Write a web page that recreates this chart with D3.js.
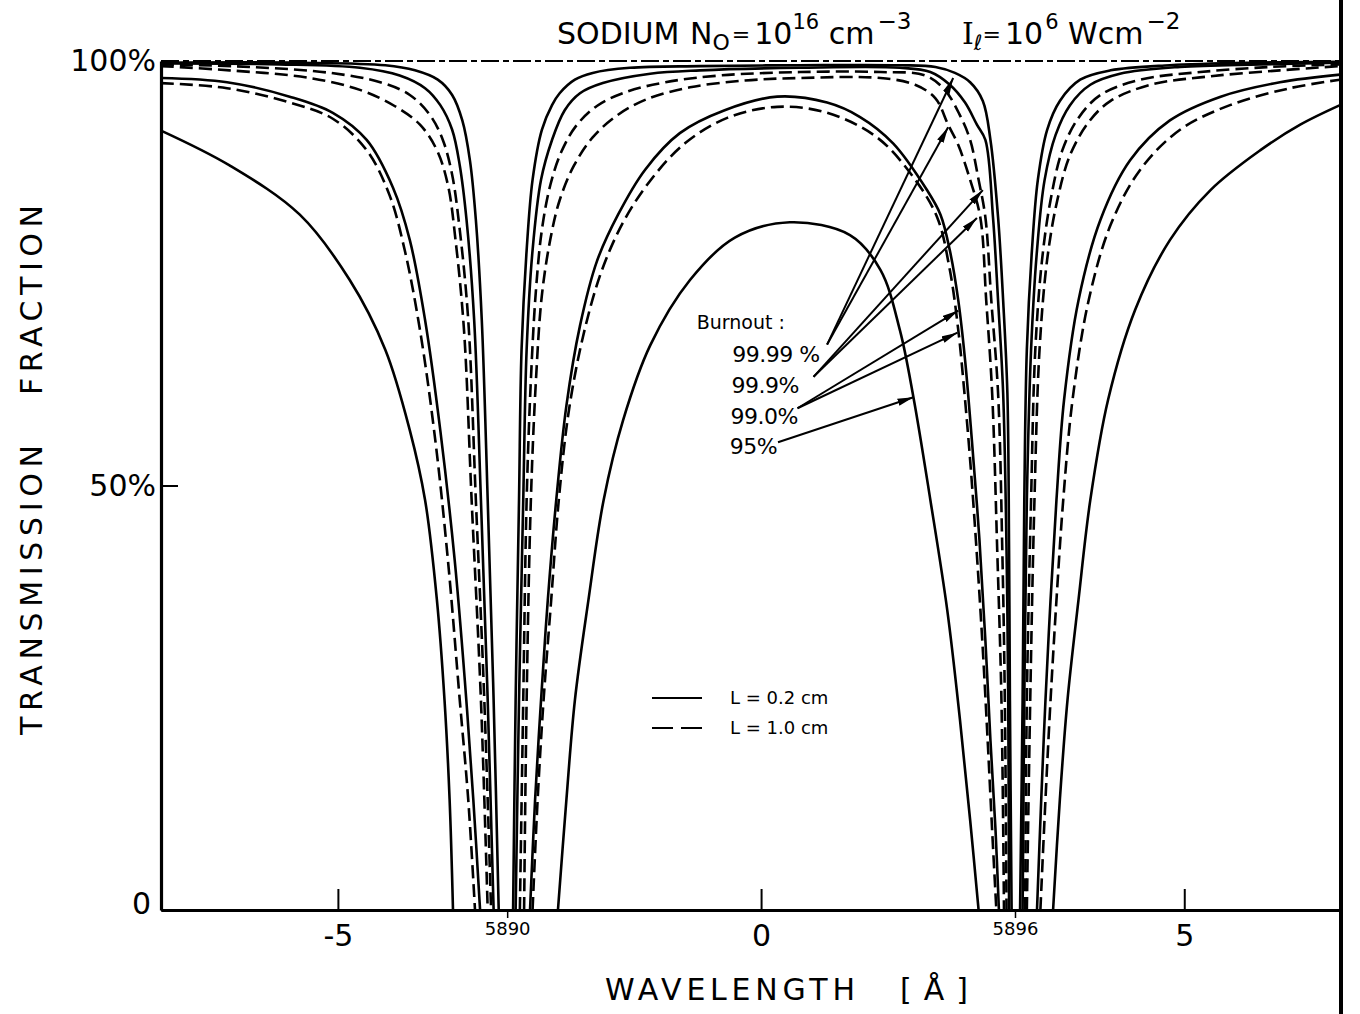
<!DOCTYPE html>
<html>
<head>
<meta charset="utf-8">
<script src="https://cdn.jsdelivr.net/npm/d3@7/dist/d3.min.js"></script>
<style>
  body { margin: 0; background: #fff; }
  svg { display: block; font-family: 'DejaVu Sans', sans-serif; }
</style>
</head>
<body>
<div id="chart"></div>
<script>
// x: wavelength offset from 5893 A, y: transmission in %
const xExtent = [-7.09, 6.84];
const xTicks = [-5, 0, 5];
const lineTicks = [-3, 3];
const lineLabels = ['5890', '5896'];
const yTicks = [0, 50, 100];
const yTickLabels = ['0', '50%', '100%'];

// each curve: left wing, centre hump, right wing (null = break at zero)
const burn9999Short = [
  [-7.09, 99.8], [-5.45, 99.8], [-4.44, 99.5], [-4.09, 98.9], [-3.82, 97.8], [-3.65, 96.0], [-3.53, 93.0],
  [-3.44, 88.3], [-3.37, 81.3], [-3.30, 69.5], [-3.23, 48.3], [-3.16, 24.7], [-3.10, 0],
  null,
  [-2.93, 0], [-2.90, 24.7], [-2.86, 48.3], [-2.83, 66.0], [-2.77, 77.7], [-2.70, 86.0], [-2.59, 91.9],
  [-2.47, 94.8], [-2.38, 96.2], [-2.20, 97.8], [-1.99, 98.6], [-1.55, 99.2], [-0.72, 99.4], [0.46, 99.5],
  [1.64, 99.5], [2.06, 99.3], [2.29, 98.6], [2.47, 97.5], [2.62, 95.3], [2.71, 90.7], [2.80, 81.6],
  [2.86, 71.8], [2.91, 60.9], [2.93, 42.4], [2.94, 24.7], [2.96, 0],
  null,
  [3.06, 0], [3.09, 24.7], [3.11, 48.3], [3.14, 66.0], [3.20, 77.7], [3.27, 86.0], [3.38, 91.9],
  [3.53, 95.3], [3.77, 97.8], [4.13, 98.9], [4.83, 99.5], [5.78, 99.8], [6.84, 99.9]
];
const burn999Short = [
  [-7.09, 99.7], [-5.69, 99.6], [-4.74, 99.2], [-4.27, 98.3], [-3.97, 96.8], [-3.79, 94.8], [-3.65, 91.9],
  [-3.56, 87.7], [-3.48, 81.3], [-3.39, 69.5], [-3.31, 48.3], [-3.23, 24.7], [-3.16, 0],
  null,
  [-2.90, 0], [-2.86, 24.7], [-2.81, 48.3], [-2.77, 66.0], [-2.70, 77.7], [-2.60, 86.0], [-2.47, 90.7],
  [-2.32, 94.2], [-2.14, 96.2], [-1.87, 97.4], [-1.31, 98.5], [-0.72, 98.9], [0.46, 99.2], [1.64, 99.2],
  [2.00, 98.7], [2.23, 97.2], [2.41, 95.1], [2.55, 92.5], [2.65, 90.7], [2.74, 81.6], [2.80, 71.8],
  [2.86, 60.9], [2.90, 42.4], [2.92, 24.7], [2.93, 0],
  null,
  [3.09, 0], [3.11, 24.7], [3.14, 48.3], [3.19, 66.0], [3.26, 77.7], [3.35, 86.0], [3.48, 91.3],
  [3.65, 94.8], [3.89, 97.2], [4.24, 98.5], [4.95, 99.3], [5.90, 99.6], [6.84, 99.8]
];
const burn9999Long = [
  [-7.09, 99.6], [-6.04, 99.3], [-5.09, 98.6], [-4.50, 97.5], [-4.15, 96.0], [-3.91, 93.6], [-3.76, 90.7],
  [-3.65, 86.6], [-3.56, 80.1], [-3.46, 69.5], [-3.37, 48.3], [-3.27, 24.7], [-3.19, 0],
  null,
  [-2.85, 0], [-2.81, 24.7], [-2.77, 48.3], [-2.72, 62.4], [-2.66, 73.0], [-2.59, 80.1], [-2.49, 85.4],
  [-2.36, 89.3], [-2.19, 92.3], [-1.94, 94.7], [-1.61, 96.3], [-1.13, 97.5], [-0.48, 98.3], [0.46, 98.7],
  [1.41, 98.7], [1.94, 98.3], [2.17, 96.6], [2.35, 93.6], [2.47, 90.7], [2.57, 86.0], [2.65, 81.6],
  [2.72, 71.8], [2.80, 60.9], [2.85, 42.4], [2.88, 24.7], [2.90, 0],
  null,
  [3.12, 0], [3.14, 24.7], [3.19, 48.3], [3.24, 66.0], [3.32, 76.6], [3.42, 83.6], [3.56, 89.5],
  [3.75, 93.3], [4.01, 96.0], [4.48, 97.8], [5.19, 98.7], [6.02, 99.3], [6.84, 99.6]
];
const burn999Long = [
  [-7.09, 99.4], [-6.28, 98.9], [-5.33, 98.0], [-4.74, 96.6], [-4.33, 94.7], [-4.03, 92.5], [-3.83, 89.5],
  [-3.70, 85.4], [-3.61, 78.9], [-3.51, 68.3], [-3.42, 48.3], [-3.31, 24.7], [-3.23, 0],
  null,
  [-2.80, 0], [-2.77, 24.7], [-2.72, 48.3], [-2.66, 62.4], [-2.59, 72.4], [-2.49, 79.0], [-2.38, 83.6],
  [-2.21, 87.7], [-1.99, 91.0], [-1.70, 93.6], [-1.35, 95.5], [-0.84, 96.9], [-0.19, 97.7], [0.46, 98.0],
  [1.41, 98.0], [1.82, 97.2], [2.06, 95.6], [2.21, 92.5], [2.33, 90.1], [2.47, 86.0], [2.59, 81.6],
  [2.66, 71.8], [2.73, 60.9], [2.79, 42.4], [2.84, 24.7], [2.87, 0],
  null,
  [3.14, 0], [3.18, 24.7], [3.23, 48.3], [3.29, 66.0], [3.38, 76.6], [3.50, 83.6], [3.65, 88.9],
  [3.87, 92.8], [4.13, 95.3], [4.60, 97.2], [5.31, 98.2], [6.13, 98.9], [6.84, 99.4]
];
const burn990Short = [
  [-7.09, 98.0], [-6.31, 97.5], [-5.57, 95.8], [-5.06, 93.9], [-4.66, 90.7], [-4.35, 85.1], [-4.15, 78.9],
  [-3.97, 69.5], [-3.79, 56.5], [-3.62, 41.2], [-3.50, 27.0], [-3.40, 13.0], [-3.32, 0],
  null,
  [-2.73, 0], [-2.67, 13.0], [-2.60, 24.7], [-2.52, 36.5], [-2.42, 48.3], [-2.30, 59.4], [-2.14, 68.8],
  [-1.94, 76.4], [-1.69, 81.9], [-1.37, 87.2], [-0.96, 91.5], [-0.43, 94.2], [0.19, 95.8], [0.78, 95.1],
  [1.17, 93.4], [1.56, 90.3], [1.96, 84.8], [2.12, 81.9], [2.23, 77.7], [2.33, 71.8], [2.41, 64.8],
  [2.49, 55.4], [2.58, 43.6], [2.65, 31.8], [2.71, 20.0], [2.77, 9.4], [2.81, 0],
  null,
  [3.26, 0], [3.31, 13.0], [3.36, 24.7], [3.42, 36.5], [3.49, 48.3], [3.58, 60.1], [3.75, 71.8],
  [4.01, 81.3], [4.36, 88.3], [4.83, 93.0], [5.43, 95.8], [6.13, 97.5], [6.84, 98.4]
];
const burn990Long = [
  [-7.09, 97.4], [-6.31, 96.8], [-5.57, 95.1], [-5.06, 93.2], [-4.66, 89.5], [-4.39, 84.2], [-4.21, 77.7],
  [-4.03, 68.3], [-3.85, 55.4], [-3.70, 41.2], [-3.56, 24.7], [-3.46, 13.0], [-3.38, 0],
  null,
  [-2.70, 0], [-2.64, 13.0], [-2.57, 24.7], [-2.48, 36.5], [-2.39, 48.3], [-2.27, 58.9], [-2.10, 67.7],
  [-1.89, 75.1], [-1.63, 81.0], [-1.31, 85.9], [-0.90, 90.3], [-0.40, 93.3], [0.19, 94.6], [0.78, 93.9],
  [1.37, 91.0], [1.80, 86.3], [2.08, 81.6], [2.23, 75.4], [2.33, 68.3], [2.40, 61.2], [2.47, 53.0],
  [2.55, 41.8], [2.62, 30.6], [2.68, 19.4], [2.73, 9.4], [2.78, 0],
  null,
  [3.30, 0], [3.36, 13.0], [3.42, 24.7], [3.49, 36.5], [3.57, 48.3], [3.68, 60.1], [3.87, 71.8],
  [4.13, 80.7], [4.48, 87.2], [4.95, 91.9], [5.54, 94.8], [6.25, 96.8], [6.84, 97.8]
];
const burn95Short = [
  [-7.09, 91.8], [-6.28, 87.7], [-5.45, 81.9], [-4.86, 74.2], [-4.44, 66.0], [-4.15, 56.5], [-3.97, 48.3],
  [-3.83, 36.5], [-3.74, 24.7], [-3.68, 13.0], [-3.64, 0],
  null,
  [-2.40, 0], [-2.30, 13.0], [-2.20, 24.7], [-2.04, 36.5], [-1.86, 48.3], [-1.63, 57.7], [-1.31, 66.5],
  [-0.84, 74.2], [-0.31, 79.2], [0.34, 81.0], [1.05, 79.5], [1.41, 75.4], [1.64, 68.3], [1.80, 60.4],
  [2.00, 48.3], [2.20, 35.3], [2.35, 22.4], [2.47, 10.6], [2.57, 0],
  null,
  [3.45, 0], [3.53, 13.0], [3.62, 24.7], [3.75, 36.5], [3.89, 48.3], [4.10, 60.1], [4.42, 70.7],
  [4.83, 78.9], [5.31, 84.8], [5.90, 89.5], [6.37, 92.5], [6.84, 94.8]
];

// burnout labels and where their arrows point
const burnLabels = ['99.99 %', '99.9%', '99.0%', '95%'];
const burnLabelPos = [[-0.34, 64.6], [-0.35, 60.9], [-0.36, 57.2], [-0.37, 53.7]];
const arrowFrom = [[0.78, 66.6], [0.78, 66.6], [0.62, 62.8], [0.62, 62.8], [0.43, 59.1], [0.43, 59.1], [0.20, 55.1]];
const arrowTo = [[2.27, 98.0], [2.21, 92.2], [2.62, 84.8], [2.55, 81.5], [2.33, 70.6], [2.32, 68.0], [1.80, 60.4]];

const curves = [
  {values: burn9999Short, dashed: false},
  {values: burn999Short, dashed: false},
  {values: burn9999Long, dashed: true},
  {values: burn999Long, dashed: true},
  {values: burn990Short, dashed: false},
  {values: burn990Long, dashed: true},
  {values: burn95Short, dashed: false}
];

const width = 1360;
const height = 1014;
const svg = d3.select('#chart').append('svg')
  .attr('width', width)
  .attr('height', height);

const x = d3.scaleLinear().domain(xExtent).range([161, 1340]);
const y = d3.scaleLinear().domain([0, 100]).range([910, 61]);

const defs = svg.append('defs');
defs.append('clipPath').attr('id', 'plotclip')
  .append('rect')
  .attr('x', x(xExtent[0]))
  .attr('y', 30)
  .attr('width', x(xExtent[1]) - x(xExtent[0]))
  .attr('height', y(0) - 30);
defs.append('marker')
  .attr('id', 'head')
  .attr('viewBox', '0 -4 16 8')
  .attr('refX', 16)
  .attr('refY', 0)
  .attr('markerWidth', 16)
  .attr('markerHeight', 8)
  .attr('markerUnits', 'userSpaceOnUse')
  .attr('orient', 'auto')
  .append('path')
  .attr('d', 'M0,-3.6L16,0L0,3.6Z')
  .attr('fill', '#000');

// 100 % reference line
svg.append('line')
  .attr('x1', x(xExtent[0]))
  .attr('x2', x(xExtent[1]))
  .attr('y1', y(100))
  .attr('y2', y(100))
  .attr('stroke', '#000')
  .attr('stroke-width', 2.2)
  .attr('stroke-dasharray', '18,4,6,4');

const line = d3.line()
  .defined(d => d !== null)
  .x(d => x(d[0]))
  .y(d => y(d[1]))
  .curve(d3.curveCatmullRom.alpha(0.5));

svg.append('g')
  .attr('clip-path', 'url(#plotclip)')
  .selectAll('path')
  .data(curves)
  .enter()
  .append('path')
    .attr('d', d => line(d.values))
    .attr('fill', 'none')
    .attr('stroke', '#000')
    .attr('stroke-width', 2.6)
    .attr('stroke-dasharray', d => d.dashed ? '13,6' : null);

// axes
let yAxis = svg.append('g')
  .attr('transform', `translate(${x(xExtent[0])},0)`)
  .call(d3.axisLeft(y)
    .tickValues(yTicks)
    .tickSizeInner(-17)
    .tickSizeOuter(0)
    .tickPadding(5)
    .tickFormat((d, i) => yTickLabels[i]));
yAxis.select('.domain').attr('stroke-width', 3.2);
yAxis.selectAll('.tick line').attr('stroke-width', 2);
yAxis.selectAll('.tick text')
  .attr('font-size', 30)
  .attr('font-family', 'DejaVu Sans')
  .attr('fill', '#000');
yAxis.selectAll('.tick text').filter(d => d === 0)
  .attr('x', -10)
  .attr('dy', '0.1em');

let xAxis = svg.append('g')
  .attr('transform', `translate(0,${y(0)})`)
  .call(d3.axisBottom(x)
    .tickValues(xTicks)
    .tickSizeInner(-21)
    .tickSizeOuter(0)
    .tickPadding(15)
    .tickFormat(d => String(d)));
xAxis.select('.domain').attr('stroke-width', 3.2);
xAxis.selectAll('.tick line').attr('stroke-width', 2);
xAxis.selectAll('.tick text')
  .attr('font-size', 30)
  .attr('font-family', 'DejaVu Sans')
  .attr('fill', '#000');

let lineAxis = svg.append('g')
  .attr('transform', `translate(0,${y(0)})`)
  .call(d3.axisBottom(x)
    .tickValues(lineTicks)
    .tickSizeInner(8)
    .tickSizeOuter(0)
    .tickPadding(4)
    .tickFormat((d, i) => lineLabels[i]));
lineAxis.select('.domain').remove();
lineAxis.selectAll('.tick line').attr('stroke-width', 1.5);
lineAxis.selectAll('.tick text')
  .attr('font-size', 18)
  .attr('font-family', 'DejaVu Sans')
  .attr('fill', '#000');

// right frame edge runs the full height
svg.append('line')
  .attr('x1', x(xExtent[1]) + 1)
  .attr('x2', x(xExtent[1]) + 1)
  .attr('y1', 0)
  .attr('y2', height)
  .attr('stroke', '#000')
  .attr('stroke-width', 4);

// axis titles
svg.append('text')
  .attr('x', 605)
  .attr('y', 1000)
  .attr('font-size', 30)
  .attr('textLength', 250)
  .attr('lengthAdjust', 'spacing')
  .text('WAVELENGTH');
svg.append('text')
  .attr('x', 900)
  .attr('y', 1000)
  .attr('font-size', 30)
  .attr('textLength', 68)
  .attr('lengthAdjust', 'spacing')
  .text('[Å]');
svg.append('text')
  .attr('transform', 'translate(42,735) rotate(-90)')
  .attr('font-size', 30)
  .attr('textLength', 290)
  .attr('lengthAdjust', 'spacing')
  .text('TRANSMISSION');
svg.append('text')
  .attr('transform', 'translate(42,395) rotate(-90)')
  .attr('font-size', 30)
  .attr('textLength', 190)
  .attr('lengthAdjust', 'spacing')
  .text('FRACTION');

// title with sub- and superscripts
let title = svg.append('text')
  .attr('y', 44)
  .attr('font-size', 30);
title.append('tspan').attr('x', 557).text('SODIUM');
title.append('tspan').attr('x', 690).text('N');
title.append('tspan').attr('dy', 6).attr('font-size', 22).text('O');
title.append('tspan').attr('dy', -8).attr('dx', 2).attr('font-size', 22).text('=');
title.append('tspan').attr('dy', 2).attr('dx', 4).text('10');
title.append('tspan').attr('dy', -15).attr('font-size', 21).text('16');
title.append('tspan').attr('dy', 15).text(' cm');
title.append('tspan').attr('dy', -15).attr('dx', 3).attr('font-size', 23).text('−3');
title.append('tspan').attr('x', 962).attr('dy', 15).attr('font-family', 'DejaVu Serif').text('I');
title.append('tspan').attr('dy', 6).attr('font-size', 21).attr('font-style', 'italic').text('ℓ');
title.append('tspan').attr('dy', -8).attr('font-size', 22).text('=');
title.append('tspan').attr('dy', 2).attr('dx', 4).text('10');
title.append('tspan').attr('dy', -15).attr('dx', 2).attr('font-size', 21).text('6');
title.append('tspan').attr('dy', 15).text(' Wcm');
title.append('tspan').attr('dy', -15).attr('dx', 3).attr('font-size', 23).text('−2');

// burnout annotation
svg.append('text')
  .attr('x', x(-0.76))
  .attr('y', y(68.4))
  .attr('font-size', 19)
  .text('Burnout :');
svg.append('g')
  .selectAll('text')
  .data(burnLabels)
  .enter()
  .append('text')
    .attr('x', (d, i) => x(burnLabelPos[i][0]))
    .attr('y', (d, i) => y(burnLabelPos[i][1]))
    .attr('font-size', 22)
    .attr('letter-spacing', -0.5)
    .text(d => d);
svg.append('g')
  .selectAll('line')
  .data(arrowTo)
  .enter()
  .append('line')
    .attr('x1', (d, i) => x(arrowFrom[i][0]))
    .attr('y1', (d, i) => y(arrowFrom[i][1]))
    .attr('x2', d => x(d[0]))
    .attr('y2', d => y(d[1]))
    .attr('stroke', '#000')
    .attr('stroke-width', 2)
    .attr('marker-end', 'url(#head)');

// legend
const legend = svg.append('g').attr('transform', 'translate(652,698)');
[['L = 0.2 cm', null], ['L = 1.0 cm', '21,8']].forEach(function(item, i) {
  legend.append('line')
    .attr('x1', 0)
    .attr('x2', 50)
    .attr('y1', i * 30)
    .attr('y2', i * 30)
    .attr('stroke', '#000')
    .attr('stroke-width', 2)
    .attr('stroke-dasharray', item[1]);
  legend.append('text')
    .attr('x', 78)
    .attr('y', i * 30 + 6)
    .attr('font-size', 18)
    .text(item[0]);
});
</script>
</body>
</html>
